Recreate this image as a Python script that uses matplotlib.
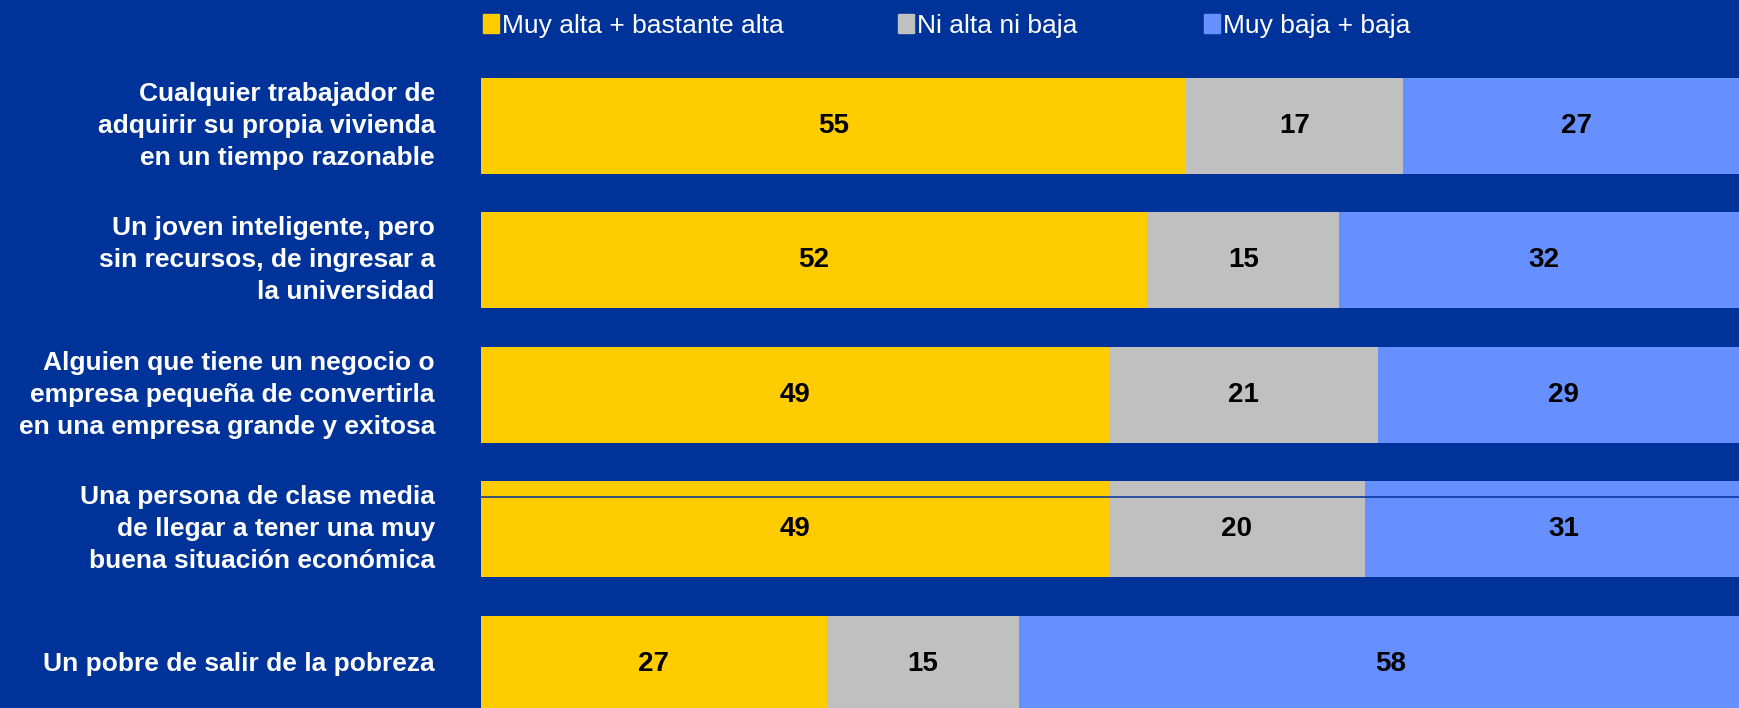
import matplotlib.pyplot as plt
from matplotlib.patches import Rectangle

# Data
categories = [
    "Cualquier trabajador de\nadquirir su propia vivienda\nen un tiempo razonable",
    "Un joven inteligente, pero\nsin recursos, de ingresar a\nla universidad",
    "Alguien que tiene un negocio o\nempresa pequeña de convertirla\nen una empresa grande y exitosa",
    "Una persona de clase media\nde llegar a tener una muy\nbuena situación económica",
    "Un pobre de salir de la pobreza",
]
alta = [55, 52, 49, 49, 27]
ni = [17, 15, 21, 20, 15]
baja = [27, 32, 29, 31, 58]
series_names = ["Muy alta + bastante alta", "Ni alta ni baja", "Muy baja + baja"]

bg = "#003399"
colors = ["#FFCC00", "#C0C0C0", "#6690FF"]

W, H = 1739, 708
fig = plt.figure(figsize=(W / 100, H / 100), dpi=100)
fig.patch.set_facecolor(bg)

ax = fig.add_axes([481 / W, 0, 1 - 481 / W, 1])
ax.set_facecolor(bg)

bar_h = 0.714
ys = list(range(len(categories)))
left = [0] * len(categories)
for vals, col in zip([alta, ni, baja], colors):
    bars = ax.barh(ys, vals, left=left, height=bar_h, color=col, edgecolor="none")
    for b, v in zip(bars, vals):
        ax.text(b.get_x() + b.get_width() / 2, b.get_y() + b.get_height() / 2, str(v),
                ha="center", va="center", fontsize=20, fontweight="bold",
                family="Liberation Sans", color="black")
    left = [l + v for l, v in zip(left, vals)]

# thin rule across the fourth bar
ax.hlines(3 - bar_h / 2 + 0.12, 0, 100, color=bg, linewidth=1.1)

ax.set_xlim(0, 98.2)
ax.set_ylim(4.33, -0.934)
ax.axis("off")

# Category labels
for y, lab in zip(ys, categories):
    ax.text(-3.6, y, lab, ha="right", va="center", fontsize=19, fontweight="bold",
            family="Liberation Sans", color="white", linespacing=1.42,
            transform=ax.transData, clip_on=False)

# Legend
legend_x = [483, 898, 1204]
for x, name, col in zip(legend_x, series_names, colors):
    fig.add_artist(Rectangle((x / W, 1 - 33 / H), 16 / W, 19 / H,
                             transform=fig.transFigure, color=col))
    fig.text((x + 19) / W, 1 - 26 / H, name, ha="left", va="center", fontsize=19,
             family="Liberation Sans", color="white")

fig.savefig("out.png", dpi=100, facecolor=bg)
